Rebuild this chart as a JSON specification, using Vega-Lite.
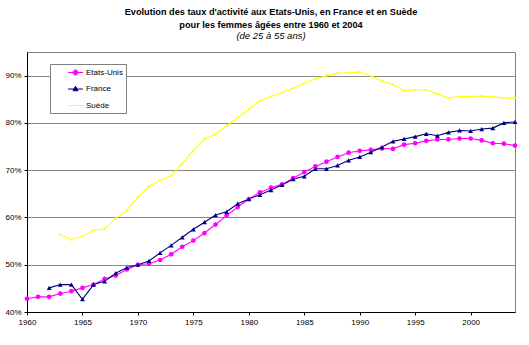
{
  "$schema": "https://vega.github.io/schema/vega-lite/v6.json",
  "width": 488,
  "height": 260,
  "autosize": {"type": "none"},
  "padding": {"left": 27, "top": 52, "right": 14, "bottom": 33},
  "background": "white",
  "config": {
    "font": "Liberation Sans",
    "view": {"stroke": "#808080", "strokeWidth": 1},
    "axis": {"labelFont": "Liberation Sans", "labelFontSize": 8, "labelColor": "black", "domainColor": "black", "tickColor": "black", "title": null}
  },
  "title": {
    "text": ["Evolution des taux d'activité aux Etats-Unis, en France et en Suède", "pour les femmes âgées entre 1960 et 2004"],
    "subtitle": "(de 25 à 55 ans)",
    "anchor": "middle",
    "frame": "group",
    "font": "Liberation Sans",
    "fontSize": 9.2,
    "fontWeight": "bold",
    "color": "black",
    "lineHeight": 12.5,
    "subtitleFont": "Liberation Sans",
    "subtitleFontSize": 9.5,
    "subtitleFontStyle": "italic",
    "subtitleColor": "black",
    "subtitlePadding": 1,
    "offset": 11.5
  },
  "datasets": {
    "main": [
      {"country": "Etats-Unis", "year": 1960, "value": 42.8},
      {"country": "Etats-Unis", "year": 1961, "value": 43.2},
      {"country": "Etats-Unis", "year": 1962, "value": 43.2},
      {"country": "Etats-Unis", "year": 1963, "value": 43.9},
      {"country": "Etats-Unis", "year": 1964, "value": 44.4},
      {"country": "Etats-Unis", "year": 1965, "value": 45.1},
      {"country": "Etats-Unis", "year": 1966, "value": 45.8},
      {"country": "Etats-Unis", "year": 1967, "value": 47.0},
      {"country": "Etats-Unis", "year": 1968, "value": 47.7},
      {"country": "Etats-Unis", "year": 1969, "value": 49.0},
      {"country": "Etats-Unis", "year": 1970, "value": 50.0},
      {"country": "Etats-Unis", "year": 1971, "value": 50.2},
      {"country": "Etats-Unis", "year": 1972, "value": 51.0},
      {"country": "Etats-Unis", "year": 1973, "value": 52.2},
      {"country": "Etats-Unis", "year": 1974, "value": 53.8},
      {"country": "Etats-Unis", "year": 1975, "value": 55.1},
      {"country": "Etats-Unis", "year": 1976, "value": 56.7},
      {"country": "Etats-Unis", "year": 1977, "value": 58.5},
      {"country": "Etats-Unis", "year": 1978, "value": 60.4},
      {"country": "Etats-Unis", "year": 1979, "value": 62.2},
      {"country": "Etats-Unis", "year": 1980, "value": 63.9},
      {"country": "Etats-Unis", "year": 1981, "value": 65.3},
      {"country": "Etats-Unis", "year": 1982, "value": 66.3},
      {"country": "Etats-Unis", "year": 1983, "value": 67.0},
      {"country": "Etats-Unis", "year": 1984, "value": 68.3},
      {"country": "Etats-Unis", "year": 1985, "value": 69.6},
      {"country": "Etats-Unis", "year": 1986, "value": 70.8},
      {"country": "Etats-Unis", "year": 1987, "value": 71.8},
      {"country": "Etats-Unis", "year": 1988, "value": 72.8},
      {"country": "Etats-Unis", "year": 1989, "value": 73.7},
      {"country": "Etats-Unis", "year": 1990, "value": 74.1},
      {"country": "Etats-Unis", "year": 1991, "value": 74.3},
      {"country": "Etats-Unis", "year": 1992, "value": 74.6},
      {"country": "Etats-Unis", "year": 1993, "value": 74.5},
      {"country": "Etats-Unis", "year": 1994, "value": 75.4},
      {"country": "Etats-Unis", "year": 1995, "value": 75.7},
      {"country": "Etats-Unis", "year": 1996, "value": 76.2},
      {"country": "Etats-Unis", "year": 1997, "value": 76.5},
      {"country": "Etats-Unis", "year": 1998, "value": 76.5},
      {"country": "Etats-Unis", "year": 1999, "value": 76.7},
      {"country": "Etats-Unis", "year": 2000, "value": 76.7},
      {"country": "Etats-Unis", "year": 2001, "value": 76.3},
      {"country": "Etats-Unis", "year": 2002, "value": 75.7},
      {"country": "Etats-Unis", "year": 2003, "value": 75.6},
      {"country": "Etats-Unis", "year": 2004, "value": 75.2},
      {"country": "France", "year": 1962, "value": 45.1},
      {"country": "France", "year": 1963, "value": 45.8},
      {"country": "France", "year": 1964, "value": 45.8},
      {"country": "France", "year": 1965, "value": 42.7},
      {"country": "France", "year": 1966, "value": 45.8},
      {"country": "France", "year": 1967, "value": 46.5},
      {"country": "France", "year": 1968, "value": 48.2},
      {"country": "France", "year": 1969, "value": 49.4},
      {"country": "France", "year": 1970, "value": 50.0},
      {"country": "France", "year": 1971, "value": 50.8},
      {"country": "France", "year": 1972, "value": 52.5},
      {"country": "France", "year": 1973, "value": 54.1},
      {"country": "France", "year": 1974, "value": 55.8},
      {"country": "France", "year": 1975, "value": 57.5},
      {"country": "France", "year": 1976, "value": 59.0},
      {"country": "France", "year": 1977, "value": 60.5},
      {"country": "France", "year": 1978, "value": 61.2},
      {"country": "France", "year": 1979, "value": 62.9},
      {"country": "France", "year": 1980, "value": 63.9},
      {"country": "France", "year": 1981, "value": 64.8},
      {"country": "France", "year": 1982, "value": 65.8},
      {"country": "France", "year": 1983, "value": 66.9},
      {"country": "France", "year": 1984, "value": 68.1},
      {"country": "France", "year": 1985, "value": 68.7},
      {"country": "France", "year": 1986, "value": 70.3},
      {"country": "France", "year": 1987, "value": 70.3},
      {"country": "France", "year": 1988, "value": 71.0},
      {"country": "France", "year": 1989, "value": 72.1},
      {"country": "France", "year": 1990, "value": 72.8},
      {"country": "France", "year": 1991, "value": 73.8},
      {"country": "France", "year": 1992, "value": 74.9},
      {"country": "France", "year": 1993, "value": 76.1},
      {"country": "France", "year": 1994, "value": 76.6},
      {"country": "France", "year": 1995, "value": 77.1},
      {"country": "France", "year": 1996, "value": 77.7},
      {"country": "France", "year": 1997, "value": 77.3},
      {"country": "France", "year": 1998, "value": 78.0},
      {"country": "France", "year": 1999, "value": 78.4},
      {"country": "France", "year": 2000, "value": 78.3},
      {"country": "France", "year": 2001, "value": 78.7},
      {"country": "France", "year": 2002, "value": 78.9},
      {"country": "France", "year": 2003, "value": 80.0},
      {"country": "France", "year": 2004, "value": 80.2},
      {"country": "Suède", "year": 1963, "value": 56.4},
      {"country": "Suède", "year": 1964, "value": 55.3},
      {"country": "Suède", "year": 1965, "value": 56.0},
      {"country": "Suède", "year": 1966, "value": 57.3},
      {"country": "Suède", "year": 1967, "value": 57.6},
      {"country": "Suède", "year": 1968, "value": 59.8},
      {"country": "Suède", "year": 1969, "value": 61.5},
      {"country": "Suède", "year": 1970, "value": 64.3},
      {"country": "Suède", "year": 1971, "value": 66.6},
      {"country": "Suède", "year": 1972, "value": 67.8},
      {"country": "Suède", "year": 1973, "value": 68.8},
      {"country": "Suède", "year": 1974, "value": 71.4},
      {"country": "Suède", "year": 1975, "value": 74.2},
      {"country": "Suède", "year": 1976, "value": 76.6},
      {"country": "Suède", "year": 1977, "value": 77.6},
      {"country": "Suède", "year": 1978, "value": 79.4},
      {"country": "Suède", "year": 1979, "value": 81.1},
      {"country": "Suède", "year": 1980, "value": 82.9},
      {"country": "Suède", "year": 1981, "value": 84.7},
      {"country": "Suède", "year": 1982, "value": 85.6},
      {"country": "Suède", "year": 1983, "value": 86.4},
      {"country": "Suède", "year": 1984, "value": 87.4},
      {"country": "Suède", "year": 1985, "value": 88.4},
      {"country": "Suède", "year": 1986, "value": 89.3},
      {"country": "Suède", "year": 1987, "value": 90.0},
      {"country": "Suède", "year": 1988, "value": 90.5},
      {"country": "Suède", "year": 1989, "value": 90.6},
      {"country": "Suède", "year": 1990, "value": 90.8},
      {"country": "Suède", "year": 1991, "value": 89.9},
      {"country": "Suède", "year": 1992, "value": 88.9},
      {"country": "Suède", "year": 1993, "value": 88.1},
      {"country": "Suède", "year": 1994, "value": 86.8},
      {"country": "Suède", "year": 1995, "value": 87.0},
      {"country": "Suède", "year": 1996, "value": 87.0},
      {"country": "Suède", "year": 1997, "value": 86.1},
      {"country": "Suède", "year": 1998, "value": 85.3},
      {"country": "Suède", "year": 1999, "value": 85.6},
      {"country": "Suède", "year": 2000, "value": 85.6},
      {"country": "Suède", "year": 2001, "value": 85.7},
      {"country": "Suède", "year": 2002, "value": 85.5},
      {"country": "Suède", "year": 2003, "value": 85.3},
      {"country": "Suède", "year": 2004, "value": 85.2}
    ]
  },
  "encoding": {
    "x": {
      "field": "year", "type": "quantitative",
      "scale": {"domain": [1960, 2004], "nice": false, "zero": false},
      "axis": {"values": [1960, 1965, 1970, 1975, 1980, 1985, 1990, 1995, 2000], "format": "d", "grid": false, "tickSize": 3, "labelPadding": 3, "labelFlush": false}
    },
    "y": {
      "field": "value", "type": "quantitative",
      "scale": {"domain": [40, 95], "nice": false, "zero": false},
      "axis": {"values": [40, 50, 60, 70, 80, 90], "labelExpr": "datum.value + '%'", "grid": true, "gridColor": "#888888", "gridWidth": 1, "tickSize": 3, "labelPadding": 3}
    },
    "color": {
      "field": "country", "type": "nominal",
      "scale": {"domain": ["Etats-Unis", "France", "Suède"], "range": ["#FF00FF", "#000080", "#FFFF00"]}
    }
  },
  "layer": [
    {
      "data": {"name": "main"},
      "mark": {"type": "line", "strokeWidth": 1.1},
      "encoding": {
        "color": {
          "field": "country", "type": "nominal",
          "legend": {
            "title": null,
            "orient": "none",
            "legendX": 23,
            "legendY": 12,
            "strokeColor": "#808080",
            "fillColor": "white",
            "padding": 3,
            "symbolOffset": 17,
            "labelOffset": 5,
            "rowPadding": 6.5,
            "symbolSize": 100,
            "labelFont": "Liberation Sans",
            "labelFontSize": 8,
            "labelColor": "black",
            "labelExpr": "datum.label + '            '",
            "encode": {
              "symbols": {
                "update": {
                  "shape": {"signal": "datum.value === 'Etats-Unis' ? 'M-1.5,0H1.5M0.5,0A0.5,0.5 0 1 1 -0.5,0A0.5,0.5 0 1 1 0.5,0Z' : (datum.value === 'France' ? 'M-1.5,0H1.5M0,-0.55L0.5,0.35L-0.5,0.35Z' : 'M-1.5,0H1.5')"},
                  "fill": {"scale": "color", "field": "value"},
                  "stroke": {"scale": "color", "field": "value"},
                  "strokeWidth": {"value": 1},
                  "opacity": {"value": 1},
                  "fillOpacity": {"value": 1},
                  "strokeOpacity": {"value": 1}
                }
              }
            }
          }
        }
      }
    },
    {
      "data": {"name": "main"},
      "transform": [{"filter": "datum.country === 'Etats-Unis'"}],
      "mark": {"type": "point", "shape": "circle", "filled": true, "opacity": 1, "size": 22}
    },
    {
      "data": {"name": "main"},
      "transform": [{"filter": "datum.country === 'France'"}],
      "mark": {"type": "point", "shape": "triangle-up", "filled": true, "opacity": 1, "size": 24}
    },
    {
      "data": {"name": "main"},
      "transform": [{"filter": "datum.country === 'Suède'"}],
      "mark": {"type": "point", "shape": "square", "filled": true, "opacity": 1, "size": 4}
    },
    {
      "data": {"values": [{"note": "Source: www.ocde.org"}]},
      "mark": {"type": "text", "font": "Liberation Sans", "fontSize": 8, "align": "center", "baseline": "middle", "color": "black"},
      "encoding": {
        "x": {"datum": 1997.8, "type": "quantitative"},
        "y": {"datum": 45.2, "type": "quantitative"},
        "text": {"field": "note"},
        "color": null
      }
    }
  ]
}
